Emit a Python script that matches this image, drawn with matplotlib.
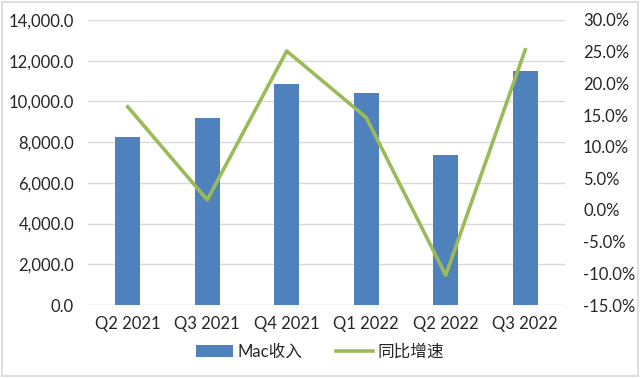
import matplotlib.pyplot as plt
import numpy as np
from matplotlib.ticker import FuncFormatter

plt.rcParams['font.family'] = ['Lato', 'Noto Sans CJK SC']

quarters = ["Q2 2021", "Q3 2021", "Q4 2021", "Q1 2022", "Q2 2022", "Q3 2022"]
mac_revenue = [8235, 9178, 10852, 10435, 7382, 11508]
yoy_growth = [16.3, 1.6, 25.1, 14.6, -10.3, 25.3]

BAR_COLOR = "#4F81BD"
LINE_COLOR = "#9BBB59"
GRID_COLOR = "#D9D9D9"
TEXT_COLOR = "#262626"

fig = plt.figure(figsize=(6.4, 3.78), dpi=100)
ax = fig.add_axes([88 / 640, 1 - 305 / 378, 477 / 640, 285 / 378])
ax2 = ax.twinx()

x = np.arange(len(quarters))
bars = ax.bar(x, mac_revenue, width=0.32, color=BAR_COLOR, label="Mac收入", zorder=2)
line, = ax2.plot(x, yoy_growth, color=LINE_COLOR, linewidth=2.6, label="同比增速", zorder=3)

ax.set_xlim(-0.5, len(quarters) - 0.5)
ax.set_ylim(0, 14000)
ax.set_yticks(np.arange(0, 14001, 2000))
ax.yaxis.set_major_formatter(FuncFormatter(lambda v, p: f"{v:,.1f}"))
ax2.set_ylim(-15, 30)
ax2.set_yticks(np.arange(-15, 31, 5))
ax2.yaxis.set_major_formatter(FuncFormatter(lambda v, p: f"{v:.1f}%"))

ax.set_xticks(x)
ax.set_xticklabels(quarters)
ax.grid(axis="y", color=GRID_COLOR, linewidth=1, zorder=0)
ax.set_axisbelow(True)

for a in (ax, ax2):
    for s in a.spines.values():
        s.set_visible(False)
    a.tick_params(length=0, labelsize=12, colors=TEXT_COLOR)
ax.tick_params(axis="y", pad=10)
ax.tick_params(axis="x", pad=8)
ax2.tick_params(axis="y", pad=13)

ax.set_zorder(ax2.get_zorder() - 1)
ax.patch.set_visible(False)

fig.legend([bars, line], ["Mac收入", "同比增速"], loc="center", bbox_to_anchor=(0.5, 1 - 352 / 378),
           ncol=2, frameon=False, fontsize=12, handlelength=2.2, columnspacing=2.0,
           handletextpad=0.3, labelcolor=TEXT_COLOR)

border = plt.Rectangle((0.003, 0.004), 0.994, 0.992, transform=fig.transFigure,
                       fill=False, edgecolor="#D9D9D9", linewidth=1.2)
fig.patches.append(border)

plt.savefig("out.png", dpi=100)
